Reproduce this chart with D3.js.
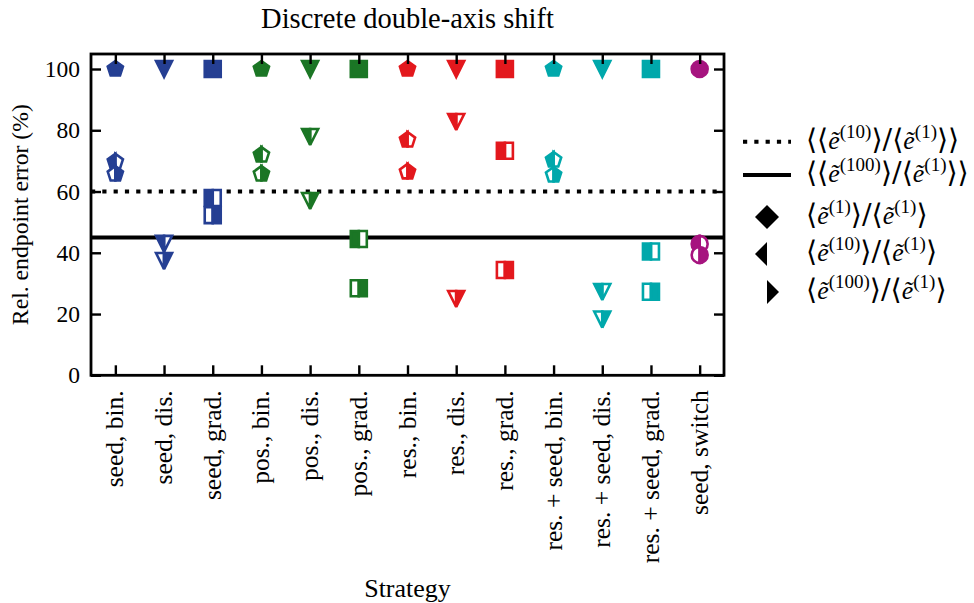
<!DOCTYPE html>
<html>
<head>
<meta charset="utf-8">
<script src="https://cdn.jsdelivr.net/npm/d3@7/dist/d3.min.js"></script>
<style>
  html, body { margin: 0; padding: 0; background: #fff; }
  text { font-family: "Liberation Serif", "Times New Roman", serif; fill: #000; }
</style>
</head>
<body>
<svg id="chart" width="974" height="603"></svg>
<script>
// Strategies on the x axis
const categories = [
  "seed, bin.", "seed, dis.", "seed, grad.",
  "pos., bin.", "pos., dis.", "pos., grad.",
  "res., bin.", "res., dis.", "res., grad.",
  "res. + seed, bin.", "res. + seed, dis.", "res. + seed, grad.",
  "seed, switch"
];
const markerShapes = [
  "pentagon", "triangle", "square",
  "pentagon", "triangle", "square",
  "pentagon", "triangle", "square",
  "pentagon", "triangle", "square",
  "circle"
];
const groupColors = [
  "#253f93", "#253f93", "#253f93",
  "#1b7625", "#1b7625", "#1b7625",
  "#e3181d", "#e3181d", "#e3181d",
  "#00a8ab", "#00a8ab", "#00a8ab",
  "#a6147f"
];
// Relative endpoint error (%) for 1, 10 and 100 steps
const errE1   = [100, 100, 100, 100, 100, 100, 100, 100, 100, 100, 100, 100, 100];
const errE10  = [69.7, 42.9, 57.9, 71.9, 77.8, 44.5, 76.8, 82.7, 73.3, 70.3, 27.2, 40.4, 42.9];
const errE100 = [65.7, 37.3, 52.3, 65.7, 56.9, 28.4, 66.4, 24.9, 34.4, 65.4, 18.2, 27.3, 39.3];
// Averages across strategies
const meanE10 = 60;
const meanE100 = 45;
const yTicks = [0, 20, 40, 60, 80, 100];

const svg = d3.select("#chart");
const plotL = 91, plotR = 724, plotT = 54, plotB = 375.3;

const x = d3.scaleLinear().domain([-0.5, categories.length - 0.5]).range([plotL, plotR]);
const y = d3.scaleLinear().domain([0, 104.9]).range([plotB, plotT]);

const MS = 16;       // marker size
const MEW = 2.6;     // marker edge width

// Marker outlines centred on (0,0)
function shapePoints(shape, s) {
  const h = s / 2;
  if (shape === "square") return [[-h, -h], [h, -h], [h, h], [-h, h]];
  if (shape === "triangle") return [[0, h], [-h, -h], [h, -h]];
  if (shape === "pentagon") {
    return d3.range(5).map(k => {
      const a = (-90 + 72 * k) * Math.PI / 180;
      return [h * Math.cos(a), h * Math.sin(a)];
    });
  }
  if (shape === "diamond") {
    const d = s / Math.SQRT2;
    return [[0, -d], [d, 0], [0, d], [-d, 0]];
  }
  return null;
}

// Keep the part of a polygon on one side of x = 0
function clipHalf(pts, side) {
  const inside = p => side === "left" ? p[0] <= 1e-9 : p[0] >= -1e-9;
  const out = [];
  for (let i = 0; i < pts.length; i++) {
    const a = pts[i], b = pts[(i + 1) % pts.length];
    const ia = inside(a), ib = inside(b);
    if (ia) out.push(a);
    if (ia !== ib) {
      const t = a[0] / (a[0] - b[0]);
      out.push([0, a[1] + t * (b[1] - a[1])]);
    }
  }
  return out;
}

const poly = pts => "M" + pts.map(p => p[0].toFixed(3) + "," + p[1].toFixed(3)).join("L") + "Z";

function fullPath(shape, s) {
  if (shape === "circle") {
    const r = s / 2;
    return `M${-r},0A${r},${r} 0 1,1 ${r},0A${r},${r} 0 1,1 ${-r},0Z`;
  }
  return poly(shapePoints(shape, s));
}
function halfPath(shape, s, side) {
  if (shape === "circle") {
    const r = s / 2;
    return side === "left"
      ? `M0,${-r}A${r},${r} 0 0,0 0,${r}Z`
      : `M0,${-r}A${r},${r} 0 0,1 0,${r}Z`;
  }
  return poly(clipHalf(shapePoints(shape, s), side));
}

// Draws a marker; fill = "full", "left" or "right"
function drawMarker(g, shape, color, fill, s, ew, altFill) {
  const stroke = ew > 0 ? color : "none";
  if (fill === "full") {
    g.append("path").attr("d", fullPath(shape, s))
      .attr("fill", color).attr("stroke", stroke).attr("stroke-width", ew);
    return;
  }
  const other = fill === "left" ? "right" : "left";
  if (altFill !== "none" || ew > 0) {
    g.append("path").attr("d", halfPath(shape, s, other))
      .attr("fill", altFill).attr("stroke", stroke).attr("stroke-width", ew);
  }
  g.append("path").attr("d", halfPath(shape, s, fill))
    .attr("fill", color).attr("stroke", stroke).attr("stroke-width", ew);
}

// Reference lines for the averages
svg.append("line")
  .attr("x1", plotL).attr("x2", plotR)
  .attr("y1", y(meanE10)).attr("y2", y(meanE10))
  .attr("stroke", "#000").attr("stroke-width", 4).attr("stroke-dasharray", "4.2 7.1");
svg.append("line")
  .attr("x1", plotL).attr("x2", plotR)
  .attr("y1", y(meanE100)).attr("y2", y(meanE100))
  .attr("stroke", "#000").attr("stroke-width", 4);

// Markers per strategy
const markerLayer = svg.append("g");
categories.forEach((c, i) => {
  const series = [
    { v: errE1[i], fill: "full" },
    { v: errE10[i], fill: "left" },
    { v: errE100[i], fill: "right" }
  ];
  series.forEach(d => {
    const g = markerLayer.append("g")
      .attr("transform", `translate(${x(i)},${y(d.v)})`)
      .attr("stroke-linejoin", "miter");
    drawMarker(g, markerShapes[i], groupColors[i], d.fill, MS, MEW, "#fff");
  });
});

// Axes with inward ticks on all four sides
const TL = 10;
const axisStyle = g => {
  g.select(".domain").remove();
  g.selectAll(".tick line").attr("stroke", "#000").attr("stroke-width", 2.4);
  g.selectAll(".tick text").attr("font-size", 23.5).attr("font-family", "Liberation Serif");
};
const idx = d3.range(categories.length);

svg.append("g").attr("transform", `translate(0,${plotB})`)
  .call(d3.axisBottom(x).tickValues(idx).tickSize(-TL).tickFormat(""))
  .call(axisStyle);
svg.append("g").attr("transform", `translate(0,${plotT})`)
  .call(d3.axisTop(x).tickValues(idx).tickSize(-TL).tickFormat(""))
  .call(axisStyle);
svg.append("g").attr("transform", `translate(${plotL},0)`)
  .call(d3.axisLeft(y).tickValues(yTicks).tickSize(-TL).tickPadding(11).tickFormat(d3.format("d")))
  .call(axisStyle);
svg.append("g").attr("transform", `translate(${plotR},0)`)
  .call(d3.axisRight(y).tickValues(yTicks).tickSize(-TL).tickFormat(""))
  .call(axisStyle);

// Frame
svg.append("rect")
  .attr("x", plotL).attr("y", plotT)
  .attr("width", plotR - plotL).attr("height", plotB - plotT)
  .attr("fill", "none").attr("stroke", "#000").attr("stroke-width", 2.8);

// Rotated category labels
svg.append("g").selectAll("text").data(categories).join("text")
  .attr("transform", (d, i) => `translate(${x(i) + 8},${plotB + 15}) rotate(-90)`)
  .attr("text-anchor", "end")
  .attr("font-size", 25.5)
  .text(d => d);

// Titles
svg.append("text")
  .attr("x", (plotL + plotR) / 2).attr("y", 28)
  .attr("text-anchor", "middle").attr("font-size", 28.5)
  .text("Discrete double-axis shift");
svg.append("text")
  .attr("x", (plotL + plotR) / 2).attr("y", 597)
  .attr("text-anchor", "middle").attr("font-size", 26)
  .text("Strategy");
svg.append("text")
  .attr("transform", `translate(28,${(plotT + plotB) / 2}) rotate(-90)`)
  .attr("text-anchor", "middle").attr("font-size", 23.7)
  .text("Rel. endpoint error (%)");

// Legend
const legend = svg.append("g");
const lx0 = 743, lx1 = 791, lxm = 767, tx = 806;
const legendRows = [
  { y: 141.7, kind: "dotted", parts: [["⟨⟨", "b"], ["ẽ", "i"], ["(10)", "s"], ["⟩/⟨", "b"], ["ẽ", "i"], ["(1)", "s"], ["⟩⟩", "b"]] },
  { y: 175, kind: "solid", parts: [["⟨⟨", "b"], ["ẽ", "i"], ["(100)", "s"], ["⟩/⟨", "b"], ["ẽ", "i"], ["(1)", "s"], ["⟩⟩", "b"]] },
  { y: 217, kind: "full", parts: [["⟨", "b"], ["ẽ", "i"], ["(1)", "s"], ["⟩/⟨", "b"], ["ẽ", "i"], ["(1)", "s"], ["⟩", "b"]] },
  { y: 254, kind: "left", parts: [["⟨", "b"], ["ẽ", "i"], ["(10)", "s"], ["⟩/⟨", "b"], ["ẽ", "i"], ["(1)", "s"], ["⟩", "b"]] },
  { y: 292, kind: "right", parts: [["⟨", "b"], ["ẽ", "i"], ["(100)", "s"], ["⟩/⟨", "b"], ["ẽ", "i"], ["(1)", "s"], ["⟩", "b"]] }
];
legendRows.forEach(r => {
  if (r.kind === "dotted" || r.kind === "solid") {
    legend.append("line").attr("x1", lx0).attr("x2", lx1).attr("y1", r.y).attr("y2", r.y)
      .attr("stroke", "#000").attr("stroke-width", 4)
      .attr("stroke-dasharray", r.kind === "dotted" ? "4.2 7.1" : null);
  } else {
    const g = legend.append("g").attr("transform", `translate(${lxm},${r.y})`);
    drawMarker(g, "diamond", "#000", r.kind, 17, 0, "none");
  }
  const t = legend.append("text").attr("x", tx).attr("y", r.y + 7);
  r.parts.forEach((p, k) => {
    const sp = t.append("tspan").text(p[0]);
    if (p[1] === "b") sp.attr("font-size", 28.5).attr("font-family", "DejaVu Serif").attr("font-weight", 300);
    if (p[1] === "i") sp.attr("font-style", "italic").attr("font-size", 26);
    if (p[1] === "s") sp.attr("font-size", 19).attr("dy", -11);
    else if (k > 0 && r.parts[k - 1][1] === "s") sp.attr("dy", 11);
  });
});
</script>
</body>
</html>
